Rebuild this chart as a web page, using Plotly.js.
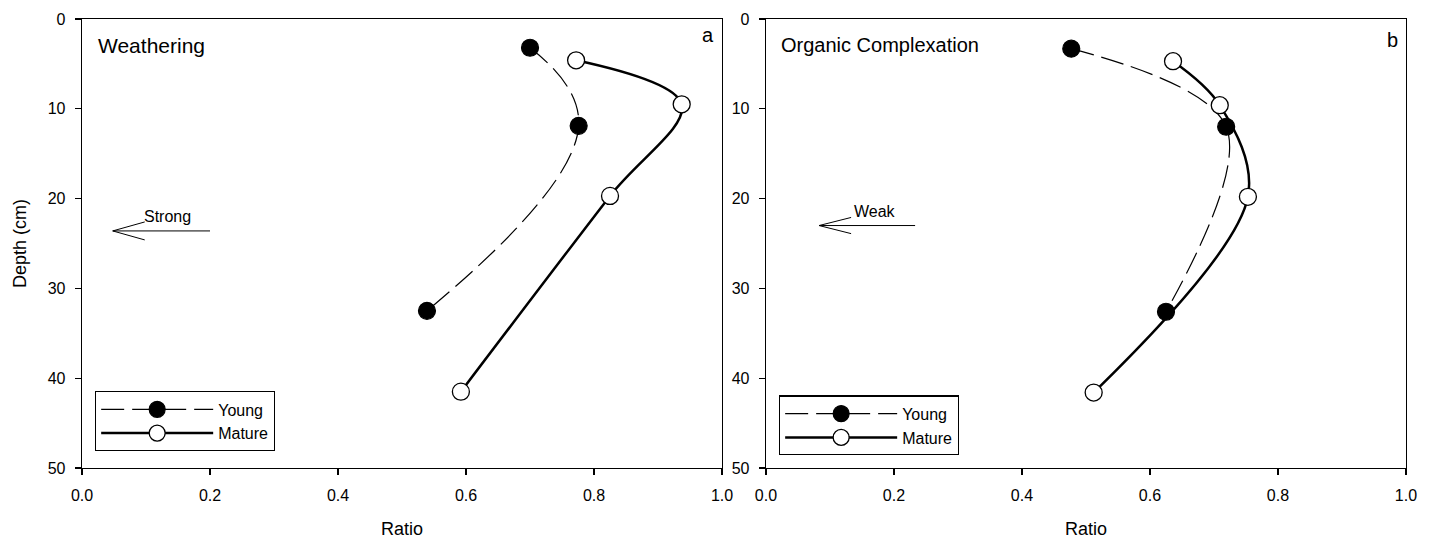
<!DOCTYPE html>
<html>
<head>
<meta charset="utf-8">
<script src="https://cdn.plot.ly/plotly-3.0.1.min.js"></script>
<style>html,body{margin:0;padding:0;background:#fff;}#chart{width:1433px;height:542px;}</style>
</head>
<body>
<div id="chart"></div>
<script>
// ---- Data ----
const seriesNames = ["Young", "Mature"];
const panelTitles = ["Weathering", "Organic Complexation"];
const panelLetters = ["a", "b"];
const arrowLabels = ["Strong", "Weak"];
const xTickVals = [0, 0.2, 0.4, 0.6, 0.8, 1.0];
const yTickVals = [0, 10, 20, 30, 40, 50];

// Weathering panel
const youngRatioW = [0.700, 0.776, 0.539];
const youngDepthW = [3.2, 11.9, 32.5];
const matureRatioW = [0.772, 0.937, 0.825, 0.592];
const matureDepthW = [4.6, 9.5, 19.7, 41.5];

// Organic complexation panel
const youngRatioO = [0.477, 0.719, 0.625];
const youngDepthO = [3.3, 12.0, 32.6];
const matureRatioO = [0.636, 0.709, 0.753, 0.512];
const matureDepthO = [4.7, 9.6, 19.8, 41.6];

// ---- Styles ----
const FONT = "Liberation Sans, Arial, sans-serif";
function youngStyle(sm) {
  return {
    line: {color: "#000", width: 1.2, dash: "23px,8px", shape: "spline", smoothing: sm},
    marker: {symbol: "circle", size: 17, color: "#000", line: {color: "#000", width: 1.2}}
  };
}
const matureStyle = {
  line: {color: "#000", width: 2.5, shape: "spline", smoothing: 1},
  marker: {symbol: "circle", size: 17, color: "#fff", line: {color: "#000", width: 1.3}}
};

function tr(x, y, name, style, xa, ya, legend) {
  return {
    type: "scatter", mode: "lines+markers", x: x, y: y, name: name,
    xaxis: xa, yaxis: ya, legend: legend, showlegend: true,
    line: style.line, marker: style.marker, cliponaxis: false
  };
}

const data = [
  tr(youngRatioW, youngDepthW, seriesNames[0], youngStyle(1.25), "x", "y", "legend"),
  tr(matureRatioW, matureDepthW, seriesNames[1], matureStyle, "x", "y", "legend"),
  tr(youngRatioO, youngDepthO, seriesNames[0], youngStyle(1), "x2", "y2", "legend2"),
  tr(matureRatioO, matureDepthO, seriesNames[1], matureStyle, "x2", "y2", "legend2")
];

function xax(domain, anchor) {
  return {
    domain: domain, anchor: anchor, range: [0, 1], tickvals: xTickVals, tickformat: ".1f",
    showgrid: false, zeroline: false, showline: true, mirror: true, linecolor: "#000", linewidth: 1.3,
    ticks: "outside", ticklen: 6, tickwidth: 1.3, tickcolor: "#000", ticklabelstandoff: 6,
    tickfont: {family: FONT, size: 16, color: "#000"},
    title: {text: "Ratio", font: {family: FONT, size: 18, color: "#000"}, standoff: 20}
  };
}
function yax(anchor, withTitle) {
  const a = {
    domain: [0, 1], anchor: anchor, range: [50, 0], tickvals: yTickVals,
    showgrid: false, zeroline: false, showline: true, mirror: true, linecolor: "#000", linewidth: 1.3,
    ticks: "outside", ticklen: 6, tickwidth: 1.3, tickcolor: "#000", ticklabelstandoff: 6,
    tickfont: {family: FONT, size: 16, color: "#000"}
  };
  if (withTitle) a.title = {text: "Depth (cm)", font: {family: FONT, size: 18, color: "#000"}, standoff: 16};
  return a;
}

function arrowShapes(xa, ya, tipX, tailX, yv, barbDx, barbDy) {
  const ln = {color: "#000", width: 1};
  return [
    {type: "line", xref: xa, yref: ya, x0: tailX, x1: tipX, y0: yv, y1: yv, line: ln},
    {type: "line", xref: xa, yref: ya, x0: tipX, x1: tipX + barbDx, y0: yv, y1: yv - barbDy, line: ln},
    {type: "line", xref: xa, yref: ya, x0: tipX, x1: tipX + barbDx, y0: yv, y1: yv + barbDy, line: ln}
  ];
}

function ann(text, xr, yr, x, y, size, xanchor) {
  return {text: text, xref: xr, yref: yr, x: x, y: y, showarrow: false,
    xanchor: xanchor, yanchor: "middle", font: {family: FONT, size: size, color: "#000"}};
}

const legendBase = {
  orientation: "v", bgcolor: "#fff", bordercolor: "#000", borderwidth: 1.2,
  font: {family: FONT, size: 16, color: "#000"}, itemwidth: 112, tracegroupgap: 0,
  entrywidth: 190, entrywidthmode: "pixels",
  xanchor: "left", yanchor: "top", x: 0, y: 0
};

const layout = {
  width: 1433, height: 542, paper_bgcolor: "#fff", plot_bgcolor: "#fff",
  margin: {l: 82, r: 27, t: 19, b: 74},
  font: {family: FONT, color: "#000"},
  xaxis: xax([0, 0.4834], "y"),
  yaxis: yax("x", true),
  xaxis2: xax([0.5166, 1], "y2"),
  yaxis2: yax("x2", false),
  legend: Object.assign({}, legendBase, {x: 0.0098, y: 0.171}),
  legend2: Object.assign({}, legendBase, {x: 0.5264, y: 0.1615}),
  shapes: [].concat(
    arrowShapes("x", "y", 0.048, 0.2, 23.6, 0.05, 1.0),
    arrowShapes("x2", "y2", 0.083, 0.233, 23.0, 0.05, 0.9)
  ),
  annotations: [
    ann(panelTitles[0], "x", "y", 0.022, 2.9, 21, "left"),
    ann(panelTitles[1], "x2", "y2", 0.02, 2.9, 20, "left"),
    ann(panelLetters[0], "x", "y", 0.99, 1.8, 20, "right"),
    ann(panelLetters[1], "x2", "y2", 0.99, 2.3, 20, "right"),
    ann(arrowLabels[0], "x", "y", 0.134, 22.0, 16, "center"),
    ann(arrowLabels[1], "x2", "y2", 0.170, 21.4, 16, "center")
  ]
};

Plotly.newPlot("chart", data, layout, {displayModeBar: false, staticPlot: true});
</script>
</body>
</html>
